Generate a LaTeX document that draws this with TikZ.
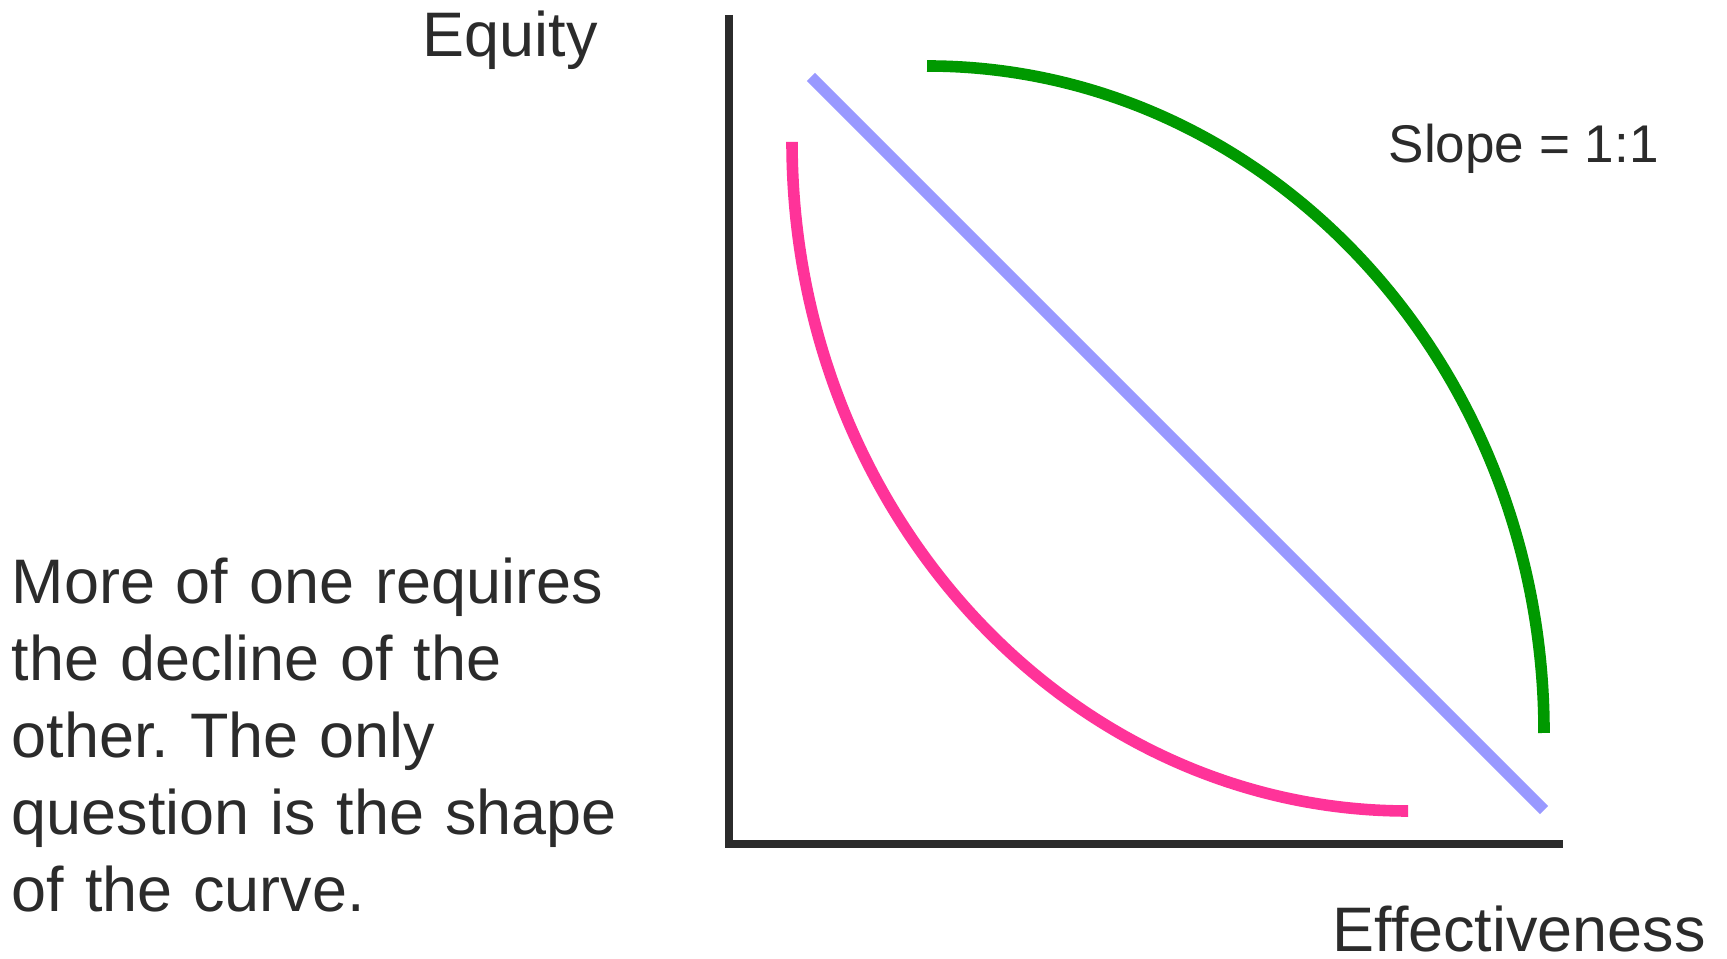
\documentclass[tikz,border=0pt]{standalone}
\usepackage{fontspec}
\setmainfont{Liberation Sans}
\usepackage{xcolor}
\usetikzlibrary{positioning}

\definecolor{ink}{HTML}{2B2B2B}
\definecolor{lineblue}{HTML}{9999FF}
\definecolor{leafgreen}{HTML}{009900}
\definecolor{hotpink}{HTML}{FF3399}
\frenchspacing

\begin{document}
\begin{tikzpicture}[axis/.style={draw=ink,line width=2.3pt}, curve/.style={line width=3.3pt}, lbl/.style={anchor=base west,inner sep=0pt,text=ink,font=\fontsize{17.9}{21.9}\selectfont}]
\useasboundingbox (0,0) rectangle (17.27,9.59);
% axes
\coordinate (ytop) at (7.29,9.44);
\coordinate (xend) at (15.63,1.15);
\draw[axis] (ytop) |- (xend);
\node[lbl] (equity) at (4.22,9.02) {Equity};
\node[lbl] (effect) at (13.32,0.07) {Effectiveness};
\node[lbl,font=\fontsize{15.1}{18}\selectfont] (slope) at (13.88,7.96) {Slope = 1:1};
\node[lbl,align=left,text width=6.5cm] (note) at (0.11,3.55) {More of one requires\\the decline of the\\other. The only\\question is the shape\\of the curve.};
% trade-off curves
\coordinate (b1) at (8.11,8.82);
\coordinate (b2) at (15.44,1.49);
\draw[curve,lineblue] (b1) -- (b2);
\coordinate (g1) at (9.27,8.93);
\draw[curve,leafgreen] (g1) arc[start angle=90,end angle=0,x radius=6.17,y radius=6.67];
\coordinate (p1) at (7.92,8.17);
\draw[curve,hotpink] (p1) arc[start angle=180,end angle=270,x radius=6.16,y radius=6.69];
\end{tikzpicture}
\end{document}
